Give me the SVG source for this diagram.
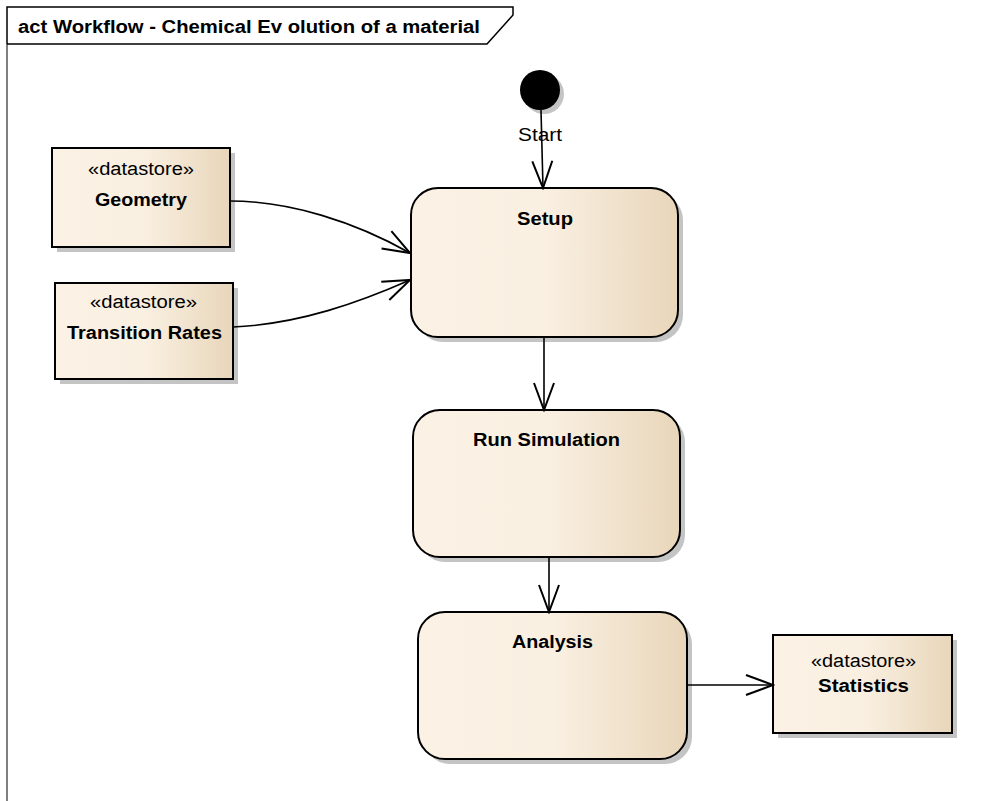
<svg xmlns="http://www.w3.org/2000/svg" width="987" height="801" viewBox="0 0 987 801">
  <defs>
    <linearGradient id="fill" x1="0" y1="0" x2="1" y2="0">
      <stop offset="0" stop-color="#FBF1E4"/>
      <stop offset="0.5" stop-color="#FAF0E2"/>
      <stop offset="1" stop-color="#E8D6BA"/>
    </linearGradient>
    <marker id="open" viewBox="-30 -12 32 24" refX="0" refY="0" markerWidth="32" markerHeight="24" markerUnits="userSpaceOnUse" orient="auto">
      <path d="M-27,-10 L0,0 L-27,10" fill="none" stroke="#000" stroke-width="2"/>
    </marker>
  </defs>
  <style>
    .shadow { fill: #C4C4C4; }
    .node { fill: url(#fill); stroke: #000; stroke-width: 2; }
    .name { font-family: "Liberation Sans", Arial, sans-serif; font-size: 18px; font-weight: bold; fill: #000; }
    .stereo { font-family: "Liberation Sans", Arial, sans-serif; font-size: 18px; fill: #000; }
    .edge { fill: none; stroke: #000; stroke-width: 1.6; marker-end: url(#open); }
  </style>

  <rect width="987" height="801" fill="#fff"/>

  <!-- diagram frame -->
  <g id="frame">
    <line x1="7" y1="44" x2="7" y2="801" stroke="#7F7F7F" stroke-width="2"/>
    <path d="M7,44 V7 H513 V15 L487,44 H7" fill="none" stroke="#000" stroke-width="1.5"/>
    <text x="18" y="33" class="name" textLength="462" lengthAdjust="spacingAndGlyphs">act Workflow - Chemical Ev olution of a material</text>
  </g>

  <!-- initial node -->
  <g id="start">
    <circle cx="544" cy="94" r="20" class="shadow"/>
    <circle cx="540" cy="90" r="20" fill="#000"/>
  </g>

  <g id="setup">
    <rect x="416" y="193" width="267" height="149" rx="27" class="shadow"/>
    <rect x="411" y="188" width="267" height="149" rx="27" class="node"/>
    <text x="517" y="225" class="name" textLength="56" lengthAdjust="spacingAndGlyphs">Setup</text>
  </g>

  <g id="run-simulation">
    <rect x="418" y="415" width="267" height="147" rx="27" class="shadow"/>
    <rect x="413" y="410" width="267" height="147" rx="27" class="node"/>
    <text x="473" y="446" class="name" textLength="147" lengthAdjust="spacingAndGlyphs">Run Simulation</text>
  </g>

  <g id="analysis">
    <rect x="423" y="617" width="269" height="147" rx="27" class="shadow"/>
    <rect x="418" y="612" width="269" height="147" rx="27" class="node"/>
    <text x="512" y="648" class="name" textLength="81" lengthAdjust="spacingAndGlyphs">Analysis</text>
  </g>

  <g id="geometry">
    <rect x="57" y="153" width="178" height="99" class="shadow"/>
    <rect x="52" y="148" width="178" height="99" class="node"/>
    <text x="88" y="175" class="stereo" textLength="106" lengthAdjust="spacingAndGlyphs">«datastore»</text>
    <text x="95" y="206" class="name" textLength="92" lengthAdjust="spacingAndGlyphs">Geometry</text>
  </g>

  <g id="transition-rates">
    <rect x="60" y="288" width="178" height="96" class="shadow"/>
    <rect x="55" y="283" width="178" height="96" class="node"/>
    <text x="90" y="308" class="stereo" textLength="107" lengthAdjust="spacingAndGlyphs">«datastore»</text>
    <text x="67" y="339" class="name" textLength="155" lengthAdjust="spacingAndGlyphs">Transition Rates</text>
  </g>

  <g id="statistics">
    <rect x="778" y="640" width="179" height="98" class="shadow"/>
    <rect x="773" y="635" width="179" height="98" class="node"/>
    <text x="811" y="667" class="stereo" textLength="105" lengthAdjust="spacingAndGlyphs">«datastore»</text>
    <text x="818" y="692" class="name" textLength="91" lengthAdjust="spacingAndGlyphs">Statistics</text>
  </g>

  <!-- control and object flows -->
  <g id="connectors">
    <path d="M541,110 L543,188" class="edge"/>
    <path d="M544,337 L544,410" class="edge"/>
    <path d="M549,557 L549,612" class="edge"/>
    <path d="M687,685 L773,685" class="edge"/>
    <path d="M230,201 C290,201 355,222 410,253" class="edge"/>
    <path d="M233,327 C300,324 360,302 410,280" class="edge"/>
    <text x="518" y="141" class="stereo" textLength="44" lengthAdjust="spacingAndGlyphs">Start</text>
  </g>
</svg>
